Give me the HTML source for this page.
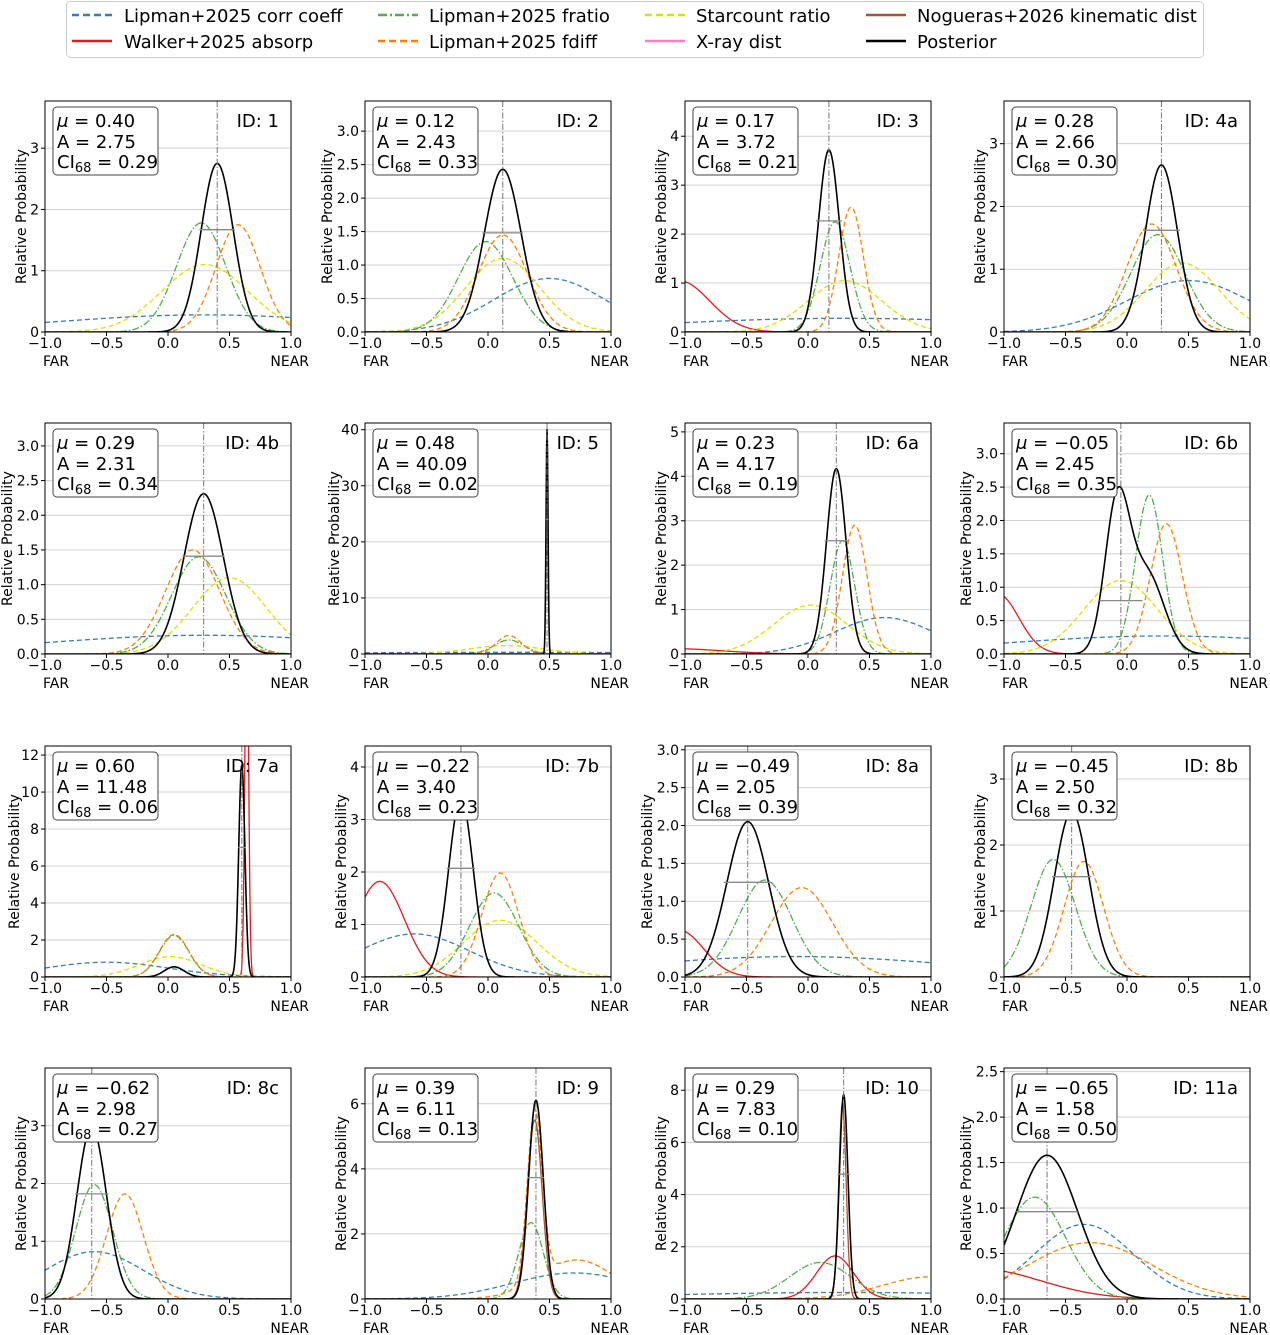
<!DOCTYPE html>
<html><head><meta charset="utf-8">
<style>
html,body{margin:0;padding:0;background:#fff;}
svg{display:block;font-family:"DejaVu Sans","Liberation Sans",sans-serif;}
</style></head>
<body>
<svg id="fig" width="1270" height="1335" viewBox="0 0 1270 1335" xmlns="http://www.w3.org/2000/svg">
<g>
<rect x="66.5" y="1.5" width="1137" height="56" rx="4" fill="#fff" stroke="#ccc"/>
<g><line x1="72" y1="15" x2="112" y2="15" stroke="#377eb8" stroke-width="2.5" stroke-dasharray="7,4"/><text x="124" y="22" font-size="18">Lipman+2025 corr coeff</text></g>
<g><line x1="72" y1="41" x2="112" y2="41" stroke="#e41a1c" stroke-width="2.5"/><text x="124" y="48" font-size="18">Walker+2025 absorp</text></g>
<g><line x1="378" y1="15" x2="418" y2="15" stroke="#4daf4a" stroke-width="2.5" stroke-dasharray="9,3,2,3"/><text x="429" y="22" font-size="18">Lipman+2025 fratio</text></g>
<g><line x1="378" y1="41" x2="418" y2="41" stroke="#ff7f00" stroke-width="2.5" stroke-dasharray="7,4"/><text x="429" y="48" font-size="18">Lipman+2025 fdiff</text></g>
<g><line x1="645" y1="15" x2="685" y2="15" stroke="#dede00" stroke-width="2.5" stroke-dasharray="7,4"/><text x="696" y="22" font-size="18">Starcount ratio</text></g>
<g><line x1="645" y1="41" x2="685" y2="41" stroke="#f781bf" stroke-width="2.5"/><text x="696" y="48" font-size="18">X-ray dist</text></g>
<g><line x1="866" y1="15" x2="906" y2="15" stroke="#a65628" stroke-width="2.5"/><text x="917" y="22" font-size="18">Nogueras+2026 kinematic dist</text></g>
<g><line x1="866" y1="41" x2="906" y2="41" stroke="#000" stroke-width="2.5"/><text x="917" y="48" font-size="18">Posterior</text></g>
</g>
</svg>
<script>
const ids=["1","2","3","4a","4b","5","6a","6b","7a","7b","8a","8b","8c","9","10","11a"];
const muLabels=["0.40","0.12","0.17","0.28","0.29","0.48","0.23","\u22120.05","0.60","\u22120.22","\u22120.49","\u22120.45","\u22120.62","0.39","0.29","\u22120.65"];
const ampLabels=["2.75","2.43","3.72","2.66","2.31","40.09","4.17","2.45","11.48","3.40","2.05","2.50","2.98","6.11","7.83","1.58"];
const ciLabels=["0.29","0.33","0.21","0.30","0.34","0.02","0.19","0.35","0.06","0.23","0.39","0.32","0.27","0.13","0.10","0.50"];
const muVals=[0.40,0.12,0.17,0.28,0.29,0.48,0.23,-0.05,0.60,-0.22,-0.49,-0.45,-0.62,0.39,0.29,-0.65];
const ciVals=[0.29,0.33,0.21,0.30,0.34,0.02,0.19,0.35,0.06,0.23,0.39,0.32,0.27,0.13,0.10,0.50];
const ciHeights=[1.67,1.48,2.27,1.62,1.41,24,2.55,0.8,7,2.07,1.25,1.52,1.82,3.73,4.78,0.96];
const yMax=[3.77,3.45,4.72,3.68,3.33,41.2,5.2,3.46,12.49,4.4,3.05,3.5,4.0,7.1,8.85,2.54];
const yTicks=[[0,1,2,3],[0,0.5,1,1.5,2,2.5,3],[0,1,2,3,4],[0,1,2,3],[0,0.5,1,1.5,2,2.5,3],[0,10,20,30,40],[0,1,2,3,4,5],[0,0.5,1,1.5,2,2.5,3],[0,2,4,6,8,10,12],[0,1,2,3,4],[0,0.5,1,1.5,2,2.5,3],[0,1,2,3],[0,1,2,3],[0,2,4,6],[0,2,4,6,8],[0,0.5,1,1.5,2,2.5]];
const yTickLabels=[["0","1","2","3"],["0.0","0.5","1.0","1.5","2.0","2.5","3.0"],["0","1","2","3","4"],["0","1","2","3"],["0.0","0.5","1.0","1.5","2.0","2.5","3.0"],["0","10","20","30","40"],["0","1","2","3","4","5"],["0.0","0.5","1.0","1.5","2.0","2.5","3.0"],["0","2","4","6","8","10","12"],["0","1","2","3","4"],["0.0","0.5","1.0","1.5","2.0","2.5","3.0"],["0","1","2","3"],["0","1","2","3"],["0","2","4","6"],["0","2","4","6","8"],["0.0","0.5","1.0","1.5","2.0","2.5"]];
const xTicks=[-1,-0.5,0,0.5,1];
const xTickLabels=["\u22121.0","\u22120.5","0.0","0.5","1.0"];
// series components per panel: [mu, sigma, peak]
const corrCoeff=[[[0.3,1.2,0.28]],[[0.5,0.45,0.8]],[[0.3,1.5,0.28]],[[0.5,0.5,0.82]],[[0.3,1.3,0.27]],[[0.2,1.5,0.3]],[[0.62,0.4,0.82]],[[0.3,1.3,0.27]],[[-0.5,0.5,0.8]],[[-0.6,0.45,0.82]],[[-0.1,1.3,0.27]],null,[[-0.6,0.4,0.82]],[[0.7,0.5,0.8]],[[0.3,1.5,0.25]],[[-0.35,0.4,0.82]]];
const absorp=[null,null,[[-1.05,0.25,1.05]],null,null,null,[[-1.1,0.4,0.12]],[[-1.05,0.17,0.9]],[[0.64,0.015,20]],[[-0.88,0.2,1.82]],[[-1.05,0.2,0.62]],null,null,null,[[0.22,0.15,1.65]],[[-1.2,0.5,0.33]]];
const fratio=[[[0.27,0.2,1.78]],[[-0.02,0.22,1.35]],[[0.22,0.12,2.25]],[[0.25,0.22,1.55]],[[0.25,0.22,1.4]],[[0.17,0.12,2.5]],[[0.28,0.1,2.55]],[[0.18,0.11,2.38]],[[0.05,0.12,2.25]],[[0.05,0.2,1.6]],[[-0.35,0.22,1.28]],[[-0.6,0.18,1.78]],[[-0.6,0.15,1.98]],[[0.35,0.1,2.35]],[[0.1,0.25,1.4]],[[-0.75,0.25,1.12]]];
const fdiff=[[[0.57,0.18,1.75]],[[0.12,0.2,1.45]],[[0.35,0.1,2.55]],[[0.2,0.2,1.72]],[[0.2,0.22,1.5]],[[0.17,0.1,3.3]],[[0.38,0.1,2.9]],[[0.32,0.13,1.95]],[[0.05,0.12,2.3]],[[0.1,0.15,1.98]],[[-0.05,0.25,1.18]],[[-0.35,0.16,1.75]],[[-0.35,0.15,1.82]],[[0.38,0.06,5.2],[0.72,0.3,1.2]],[[1.0,0.4,0.85]],[[-0.3,0.5,0.62]]];
const starcount=[[[0.3,0.35,1.1]],[[0.12,0.3,1.1]],[[0.3,0.3,1.05]],[[0.45,0.3,1.1]],[[0.5,0.3,1.1]],[[0.15,0.3,1.5]],[[0.02,0.3,1.1]],[[-0.05,0.3,1.1]],[[0.02,0.25,1.1]],[[0.1,0.3,1.08]],null,null,null,null,null,null];
const kinematic=[null,null,null,null,null,null,null,null,null,null,null,null,null,[[0.38,0.06,5.5]],[[0.28,0.03,7.5]],null];
const posterior=[[[0.40,0.13,2.75]],[[0.12,0.15,2.43]],[[0.17,0.085,3.72]],[[0.28,0.13,2.66]],[[0.29,0.16,2.31]],[[0.48,0.008,40.09]],[[0.23,0.08,4.17]],[[-0.08,0.1,2.2],[0.16,0.14,1.2]],[[0.6,0.025,11.48],[0.05,0.08,0.55]],[[-0.22,0.1,3.4]],[[-0.49,0.17,2.05]],[[-0.45,0.14,2.5]],[[-0.62,0.12,2.98]],[[0.39,0.06,6.11]],[[0.29,0.035,7.83]],[[-0.65,0.25,1.58]]];

const NS="http://www.w3.org/2000/svg";
const svg=document.getElementById('fig');
const colX=[45,365,685,1004], rowY=[101,423,746,1068], W=246, H=231;
const seriesList=[
 {d:corrCoeff,c:"#377eb8",dash:"5,3",n:"corr-coeff"},
 {d:absorp,c:"#e41a1c",dash:null,n:"walker-absorp"},
 {d:starcount,c:"#dede00",dash:"5,3",n:"starcount"},
 {d:fratio,c:"#4daf4a",dash:"7,2,1.5,2",n:"fratio"},
 {d:fdiff,c:"#ff7f00",dash:"5,3",n:"fdiff"},
 {d:kinematic,c:"#a65628",dash:null,n:"kinematic"},
 {d:posterior,c:"#000",dash:null,n:"posterior"}];
function mk(tag,attrs,parent){const e=document.createElementNS(NS,tag);for(const k in attrs)e.setAttribute(k,attrs[k]);parent.appendChild(e);return e;}
ids.forEach((id,i)=>{
 const x0=colX[i%4], y0=rowY[Math.floor(i/4)];
 const sx=v=>x0+(v+1)/2*W, sy=v=>y0+H-v/yMax[i]*H;
 const g=mk('g',{},svg);
 
 
 const cp=mk('clipPath',{id:'cp'+i},g); mk('rect',{x:x0,y:y0,width:W,height:H},cp);
 let maxLen=0;
 yTicks[i].forEach((t,k)=>{
  const y=sy(t);
  const gl=mk('line',{x1:x0,x2:x0+W,y1:y,y2:y,stroke:"#d0d0d0","stroke-width":1},g);
  
  
  mk('line',{x1:x0-4,x2:x0,y1:y,y2:y,stroke:"#000"},g);
  const tl=mk('text',{x:x0-6,y:y+5,"text-anchor":"end","font-size":14},g); tl.textContent=yTickLabels[i][k];
  
  
  maxLen=Math.max(maxLen,yTickLabels[i][k].length);
 });
 xTicks.forEach((t,k)=>{
  const x=sx(t);
  mk('line',{x1:x,x2:x,y1:y0+H,y2:y0+H+4,stroke:"#000"},g);
  const tl=mk('text',{x:x,y:y0+H+16,"text-anchor":"middle","font-size":14},g); tl.textContent=xTickLabels[k];
  
  
 });
 const far=mk('text',{x:x0-2,y:y0+H+34,"font-size":14},g); far.textContent="FAR";
 
 
 const near=mk('text',{x:x0+W+18,y:y0+H+34,"font-size":14,"text-anchor":"end"},g); near.textContent="NEAR";
 
 
 const off=maxLen===1?24:(maxLen===2?31:38);
 const yl=mk('text',{transform:`translate(${x0-off+5},${y0+H/2}) rotate(-90)`,"text-anchor":"middle","font-size":14},g); yl.textContent="Relative Probability";
 
 
 const cg=mk('g',{"clip-path":`url(#cp${i})`},g);
 seriesList.forEach(s=>{
  const comps=s.d[i]; if(!comps)return;
  let pts=[];
  for(let k=0;k<=600;k++){const x=-1+2*k/600;let v=0;comps.forEach(c=>{v+=c[2]*Math.exp(-0.5*((x-c[0])/c[1])**2);});pts.push(sx(x).toFixed(2)+","+sy(v).toFixed(2));}
  const a={points:pts.join(" "),fill:"none",stroke:s.c,"stroke-width":s.n==="posterior"?1.6:1.3};
  if(s.dash)a["stroke-dasharray"]=s.dash;
  const pl=mk('polyline',a,cg);
  
  
 });
 const vl=mk('line',{x1:sx(muVals[i]),x2:sx(muVals[i]),y1:y0,y2:y0+H,stroke:"#777","stroke-width":1,"stroke-dasharray":"6,2,1.5,2"},cg);
 
 
 const ci=mk('line',{x1:sx(muVals[i]-ciVals[i]/2),x2:sx(muVals[i]+ciVals[i]/2),y1:sy(ciHeights[i]),y2:sy(ciHeights[i]),stroke:"#888","stroke-width":1.3},cg);
 
 
 mk('rect',{x:x0,y:y0,width:W,height:H,fill:"none",stroke:"#000","stroke-width":1},g);
 const bw=Math.max(muLabels[i].length,ampLabels[i].length,ciLabels[i].length+1)*11+50;
 const bx=mk('rect',{x:x0+8,y:y0+6,width:bw,height:68,rx:4,fill:"#fff",stroke:"#444","stroke-width":1},g);
 
 
 const t1=mk('text',{x:x0+12,y:y0+26,"font-size":18},g);
 t1.innerHTML=`<tspan font-style="italic">\u03bc</tspan> = ${muLabels[i]}`;
 
 
 const t2=mk('text',{x:x0+12,y:y0+47,"font-size":18},g); t2.textContent="A = "+ampLabels[i];
 
 
 const t3=mk('text',{x:x0+12,y:y0+67,"font-size":18},g);
 t3.innerHTML=`CI<tspan font-size="13" dy="4">68</tspan><tspan dy="-4"> = ${ciLabels[i]}</tspan>`;
 
 
 const it=mk('text',{x:x0+W-12,y:y0+26,"font-size":18,"text-anchor":"end"},g); it.textContent="ID: "+id;
 
 
});
</script>
</body></html>
